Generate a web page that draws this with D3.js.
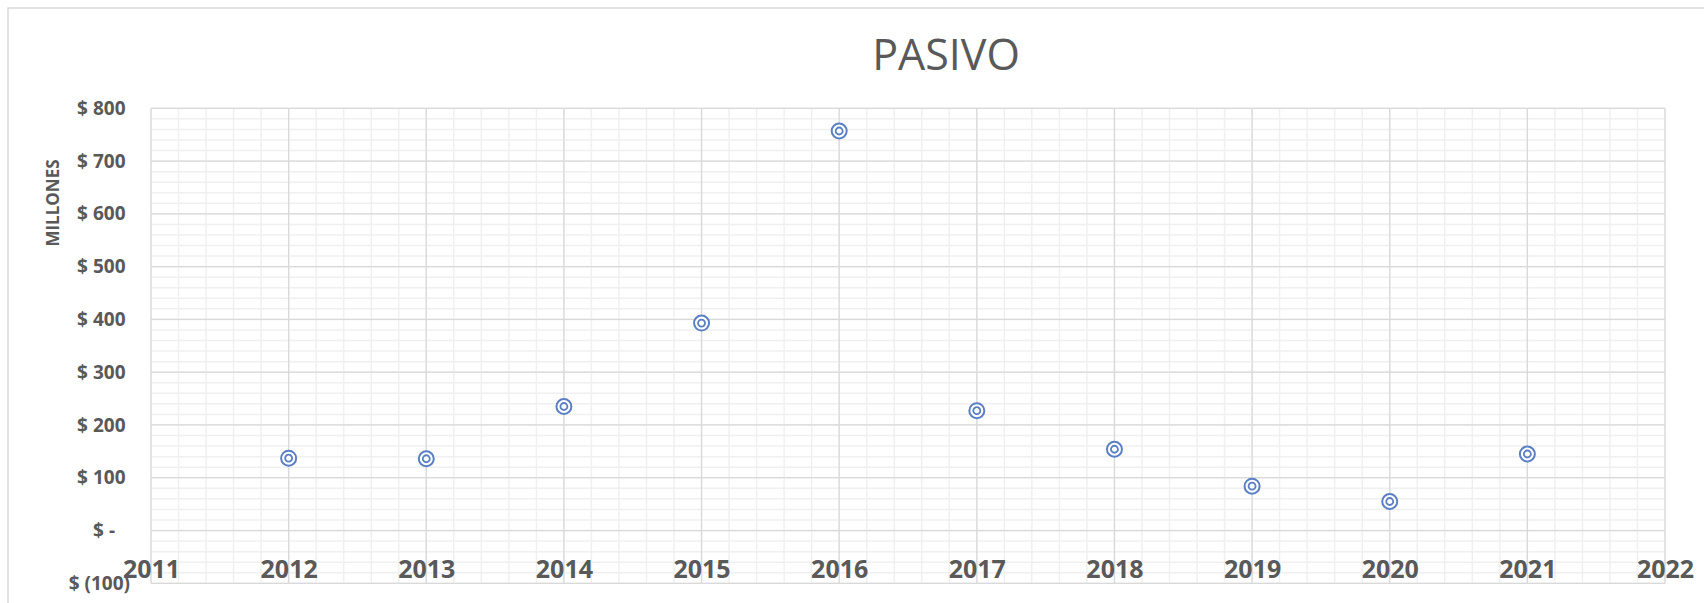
<!DOCTYPE html>
<html>
<head>
<meta charset="utf-8">
<script src="https://cdn.jsdelivr.net/npm/d3@7"></script>
<style>
  body { margin: 0; background: #fff; }
  text { font-family: "Open Sans", "Liberation Sans", sans-serif; }
</style>
</head>
<body>
<div id="chart"></div>
<script>
// values (millones)
const years = [2012, 2013, 2014, 2015, 2016, 2017, 2018, 2019, 2020, 2021]
const pasivo = [137, 136, 235, 393, 757, 227, 154, 84, 55, 145]
const xTicks = [2011, 2012, 2013, 2014, 2015, 2016, 2017, 2018, 2019, 2020, 2021, 2022]
const yTicks = [-100, 0, 100, 200, 300, 400, 500, 600, 700, 800]

const W = 1704, H = 603
const plotL = 151, plotR = 1665, plotT = 108.3, plotB = 583.3

let svg = d3.select("#chart")
  .append("svg")
  .attr("width", W)
  .attr("height", H)

// chart border
svg.append("rect")
  .attr("x", 8).attr("y", 8)
  .attr("width", W).attr("height", H)
  .attr("fill", "none")
  .attr("stroke", "#d9d9d9")
  .attr("stroke-width", 1.5)

let x = d3.scaleLinear().domain([2011, 2022]).range([plotL, plotR])
let y = d3.scaleLinear().domain([-100, 800]).range([plotB, plotT])

// minor gridlines
let minorX = d3.range(2011, 2022.001, 0.2)
let minorY = d3.range(-100, 800.001, 20)

svg.append("g").selectAll("line")
  .data(minorX)
  .enter()
  .append("line")
  .attr("x1", d => x(d)).attr("x2", d => x(d))
  .attr("y1", plotT).attr("y2", plotB)
  .attr("stroke", "#f0f0f0")
  .attr("stroke-width", 1.5)

svg.append("g").selectAll("line")
  .data(minorY)
  .enter()
  .append("line")
  .attr("x1", plotL).attr("x2", plotR)
  .attr("y1", d => y(d)).attr("y2", d => y(d))
  .attr("stroke", "#f0f0f0")
  .attr("stroke-width", 1.5)

// major gridlines
svg.append("g").selectAll("line")
  .data(xTicks)
  .enter()
  .append("line")
  .attr("x1", d => x(d)).attr("x2", d => x(d))
  .attr("y1", plotT).attr("y2", plotB)
  .attr("stroke", "#d9d9d9")
  .attr("stroke-width", 1.25)

svg.append("g").selectAll("line")
  .data(yTicks)
  .enter()
  .append("line")
  .attr("x1", plotL).attr("x2", plotR)
  .attr("y1", d => y(d)).attr("y2", d => y(d))
  .attr("stroke", "#d9d9d9")
  .attr("stroke-width", 1.25)

// y axis labels (accounting style)
let yFmt = d => d === 0 ? "$ -" : d < 0 ? "$ (" + Math.abs(d) + ")" : "$ " + d
let yAxis = d3.axisLeft(y).tickValues(yTicks).tickFormat(yFmt).tickSize(0).tickPadding(0)
let gy = svg.append("g")
  .attr("transform", "translate(130,0)")
  .call(yAxis)
gy.select(".domain").remove()
gy.selectAll("text")
  .attr("x", d => d === 0 ? -15 : d < 0 ? 0 : -4.5)
  .attr("fill", "#595959")
  .style("font-size", "19px")
  .style("font-weight", "bold")
  .style("font-family", "'Open Sans', sans-serif")

// x axis labels
let xAxis = d3.axisBottom(x).tickValues(xTicks).tickFormat(d3.format("d")).tickSize(0).tickPadding(0)
let gx = svg.append("g")
  .attr("transform", "translate(0,560)")
  .call(xAxis)
gx.select(".domain").remove()
gx.selectAll("text")
  .attr("y", 0)
  .attr("dy", "0.72em")
  .attr("fill", "#595959")
  .style("font-size", "25px")
  .style("font-weight", "bold")
  .style("font-family", "'Open Sans', sans-serif")

// axis title
svg.append("text")
  .attr("transform", "translate(53,203) rotate(-90)")
  .attr("text-anchor", "middle")
  .attr("dy", "0.36em")
  .attr("fill", "#595959")
  .style("font-size", "17px")
  .style("font-weight", "bold")
  .text("MILLONES")

// title
svg.append("text")
  .attr("x", 946)
  .attr("y", 70)
  .attr("text-anchor", "middle")
  .attr("fill", "#595959")
  .style("font-size", "43px")
  .text("PASIVO")

// markers: double ring
let pts = svg.append("g").selectAll("g")
  .data(years.map((yr, i) => [yr, pasivo[i]]))
  .enter()
  .append("g")
  .attr("transform", d => "translate(" + x(d[0]) + "," + y(d[1]) + ")")

pts.append("circle")
  .attr("r", 7.5)
  .attr("fill", "#fff")
  .attr("stroke", "#5b7fc4")
  .attr("stroke-width", 2)
pts.append("circle")
  .attr("r", 3.5)
  .attr("fill", "none")
  .attr("stroke", "#5b7fc4")
  .attr("stroke-width", 1.8)
</script>
</body>
</html>
